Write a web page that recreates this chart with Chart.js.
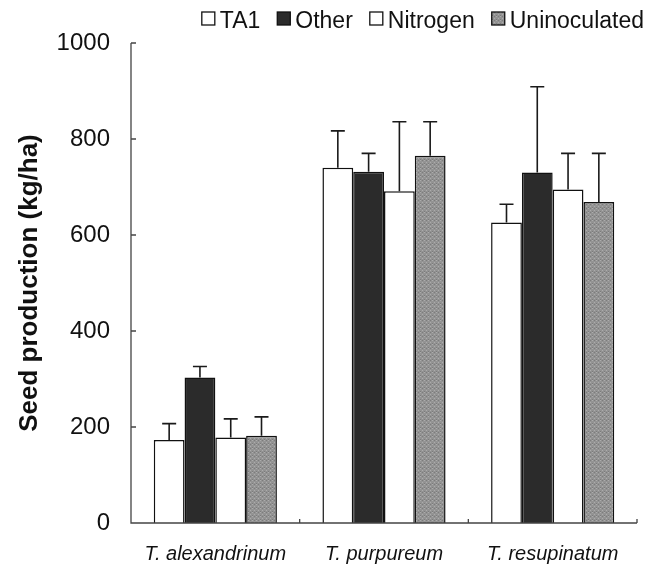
<!DOCTYPE html>
<html>
<head>
<meta charset="utf-8">
<script src="https://cdn.jsdelivr.net/npm/chart.js@4.4.1/dist/chart.umd.min.js"></script>
<style>
  html, body { margin: 0; padding: 0; background: #fff; }
  #wrap { width: 656px; height: 567px; }
</style>
</head>
<body>
<div id="wrap"><canvas id="c" width="656" height="567"></canvas></div>
<script>
// Seed production of three clover species under four inoculation treatments
const species = ['T. alexandrinum', 'T. purpureum', 'T. resupinatum'];
const treatments = ['TA1', 'Other', 'Nitrogen', 'Uninoculated'];

// Mean seed production (kg/ha)
const ta1 = [173, 740, 626];
const other = [303, 732, 730];
const nitrogen = [178, 691, 695];
const uninoculated = [182, 765, 669];

// Upper error (kg/ha) added above each mean
const ta1Err = [34, 77, 38];
const otherErr = [23, 38, 179];
const nitrogenErr = [39, 145, 75];
const uninoculatedErr = [39, 71, 101];

const yTicks = [0, 200, 400, 600, 800, 1000];

// Speckled grey fill for the uninoculated bars
function speckle() {
  const p = document.createElement('canvas');
  p.width = 4; p.height = 4;
  const g = p.getContext('2d');
  g.fillStyle = '#939393';
  g.fillRect(0, 0, 4, 4);
  g.fillStyle = '#acacac';
  g.fillRect(0, 0, 1, 1); g.fillRect(2, 2, 1, 1);
  g.fillStyle = '#7c7c7c';
  g.fillRect(2, 0, 1, 1); g.fillRect(0, 3, 1, 1);
  return g.createPattern(p, 'repeat');
}
const greyFill = speckle();

const series = [
  { label: treatments[0], data: ta1, err: ta1Err, fill: '#ffffff' },
  { label: treatments[1], data: other, err: otherErr, fill: '#2b2b2b' },
  { label: treatments[2], data: nitrogen, err: nitrogenErr, fill: '#ffffff' },
  { label: treatments[3], data: uninoculated, err: uninoculatedErr, fill: greyFill }
];

// Upper-only error bars with caps
const errorBars = {
  id: 'errorBars',
  afterDatasetsDraw(chart) {
    const ctx = chart.ctx;
    const y = chart.scales.y;
    ctx.save();
    ctx.strokeStyle = '#1a1a1a';
    ctx.lineWidth = 1.6;
    chart.data.datasets.forEach((ds, i) => {
      const meta = chart.getDatasetMeta(i);
      meta.data.forEach((bar, j) => {
        const top = y.getPixelForValue(ds.data[j] + ds.err[j]);
        ctx.beginPath();
        ctx.moveTo(bar.x, bar.y);
        ctx.lineTo(bar.x, top);
        ctx.moveTo(bar.x - 7, top);
        ctx.lineTo(bar.x + 7, top);
        ctx.stroke();
      });
    });
    ctx.restore();
  }
};

// Axis lines with short inward ticks
const frame = {
  id: 'frame',
  afterDraw(chart) {
    const ctx = chart.ctx;
    const a = chart.chartArea;
    const y = chart.scales.y;
    const x = chart.scales.x;
    ctx.save();
    ctx.strokeStyle = '#444';
    ctx.lineWidth = 1.3;
    ctx.beginPath();
    ctx.moveTo(a.left, a.top);
    ctx.lineTo(a.left, a.bottom);
    ctx.lineTo(a.right, a.bottom);
    yTicks.forEach(v => {
      const py = y.getPixelForValue(v);
      ctx.moveTo(a.left, py);
      ctx.lineTo(a.left + 5, py);
    });
    for (let k = 0; k < species.length; k++) {
      const px = x.getPixelForValue(k) + (x.getPixelForValue(1) - x.getPixelForValue(0)) / 2;
      ctx.moveTo(px, a.bottom);
      ctx.lineTo(px, a.bottom - 4);
    }
    ctx.stroke();
    ctx.restore();
  }
};

// Legend row in the top-right corner
const legendRow = {
  id: 'legendRow',
  afterDraw(chart) {
    const ctx = chart.ctx;
    ctx.save();
    ctx.font = '23px "Liberation Sans", Arial, sans-serif';
    ctx.textBaseline = 'alphabetic';
    const box = 13, gapText = 5, gapItem = 17;
    const ds = chart.data.datasets;
    let xr = 644;
    const pos = [];
    for (let i = ds.length - 1; i >= 0; i--) {
      const w = ctx.measureText(ds[i].label).width;
      const tx = xr - w;
      const bx = tx - gapText - box;
      pos[i] = { bx, tx };
      xr = bx - gapItem;
    }
    ds.forEach((d, i) => {
      ctx.fillStyle = d.backgroundColor;
      ctx.fillRect(pos[i].bx, 12, box, box);
      ctx.strokeStyle = '#111';
      ctx.lineWidth = 1.3;
      ctx.strokeRect(pos[i].bx, 12, box, box);
      ctx.fillStyle = '#111';
      ctx.fillText(d.label, pos[i].tx, 28);
    });
    ctx.restore();
  }
};

new Chart(document.getElementById('c'), {
  type: 'bar',
  data: {
    labels: species,
    datasets: series.map(s => ({
      label: s.label,
      data: s.data,
      err: s.err,
      backgroundColor: s.fill,
      borderColor: '#111',
      borderWidth: 1.5,
      borderSkipped: 'bottom',
      categoryPercentage: 0.73,
      barPercentage: 1.0
    }))
  },
  options: {
    responsive: false,
    animation: false,
    devicePixelRatio: 1,
    layout: { padding: { left: 0, right: 19, top: 43, bottom: 0 } },
    plugins: {
      legend: { display: false },
      tooltip: { enabled: false }
    },
    scales: {
      x: {
        grid: { display: false, drawTicks: false },
        border: { display: false },
        ticks: {
          color: '#111',
          padding: 19,
          font: { family: '"Liberation Sans", Arial, sans-serif', size: 20, style: 'italic' }
        },
        afterFit(s) { s.height = 44; }
      },
      y: {
        min: 0,
        max: 1000,
        afterBuildTicks(s) { s.ticks = yTicks.map(v => ({ value: v })); },
        grid: { display: false, drawTicks: false },
        border: { display: false },
        ticks: {
          color: '#111',
          padding: 21,
          callback: v => String(v),
          font: { family: '"Liberation Sans", Arial, sans-serif', size: 24 }
        },
        title: {
          display: true,
          text: 'Seed production (kg/ha)',
          color: '#111',
          padding: { top: 14, bottom: 0 },
          font: { family: '"Liberation Sans", Arial, sans-serif', size: 26, weight: 'bold' }
        },
        afterFit(s) { s.width = 131; }
      }
    }
  },
  plugins: [errorBars, frame, legendRow]
});
</script>
</body>
</html>
